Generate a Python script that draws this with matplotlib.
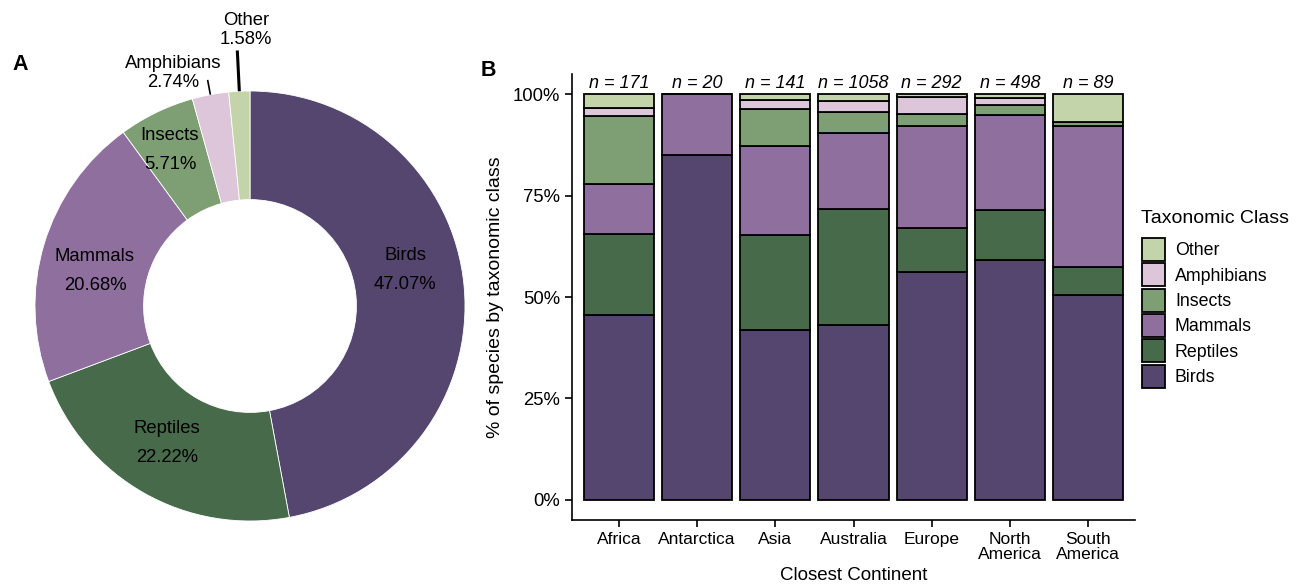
import numpy as np
import matplotlib
matplotlib.use("Agg")
import matplotlib.pyplot as plt
from matplotlib.patches import Patch

plt.rcParams['font.family'] = ['Liberation Sans', 'DejaVu Sans']

# ---------------- data ----------------
classes = ["Birds", "Reptiles", "Mammals", "Insects", "Amphibians", "Other"]
colors = ["#55466f", "#476b4a", "#8e6f9e", "#7e9e73", "#ddc5da", "#c3d4aa"]

overall_pct = [47.07, 22.22, 20.68, 5.71, 2.74, 1.58]

continents = ["Africa", "Antarctica", "Asia", "Australia", "Europe",
              "North\nAmerica", "South\nAmerica"]
n_totals = [171, 20, 141, 1058, 292, 498, 89]

birds = [78, 17, 59, 455, 164, 294, 45]
reptiles = [34, 0, 33, 304, 32, 62, 6]
mammals = [21, 3, 31, 198, 73, 116, 31]
insects = [29, 0, 13, 54, 9, 13, 1]
amphibians = [3, 0, 3, 29, 12, 9, 0]
other = [6, 0, 2, 18, 2, 4, 6]

W, H = 1303, 587
fig = plt.figure(figsize=(W / 100, H / 100), dpi=100)

# ---------------- Panel A: donut ----------------
cx, cy, R = 250, 306, 215
axA = fig.add_axes([(cx - R) / W, 1 - (cy + R) / H, 2 * R / W, 2 * R / H])
axA.pie(overall_pct, colors=colors, startangle=90, counterclock=False,
        radius=1.0, wedgeprops=dict(width=0.505, edgecolor="white", linewidth=0.6))
axA.set_xlim(-1, 1)
axA.set_ylim(-1, 1)
axA.set_aspect("equal")
axA.axis("off")

def to_data(px, py):
    return (px - cx) / R, (cy - py) / R

inner_label_px = {"Birds": (405, 270), "Reptiles": (167, 443),
                  "Mammals": (95, 271), "Insects": (170, 150)}
for name, pct in zip(classes, overall_pct):
    if name in inner_label_px:
        x, y = to_data(*inner_label_px[name])
        axA.text(x, y, f"{name}\n{pct:.2f}%", ha="center", va="center",
                 fontsize=13.3, linespacing=1.95)

# outside labels with leader lines
cum = np.cumsum([0] + overall_pct)
outer = {"Amphibians": ((173, 73), 1.07), "Other": ((246, 30), 1.19)}
for i, name in enumerate(classes):
    if name in outer:
        mid = (cum[i] + cum[i + 1]) / 2
        ang = np.deg2rad(90 - mid / 100 * 360)
        r2 = outer[name][1]
        axA.plot([np.cos(ang), r2 * np.cos(ang)], [np.sin(ang), r2 * np.sin(ang)],
                 color="black", lw=2.2 if name == "Other" else 1.2, clip_on=False,
                 solid_capstyle="butt")
        x, y = to_data(*outer[name][0])
        axA.text(x, y, f"{name}\n{overall_pct[i]:.2f}%", ha="center", va="center",
                 fontsize=13.3, linespacing=1.15)

fig.text(12 / W, 1 - 65 / H, "A", fontsize=15.5, fontweight="bold", ha="left", va="center")
fig.text(481 / W, 1 - 70 / H, "B", fontsize=15.5, fontweight="bold", ha="left", va="center")

# ---------------- Panel B: stacked bars ----------------
axB = fig.add_axes([572 / W, 1 - 520 / H, (1135 - 572) / W, (520 - 74) / H])
series = [birds, reptiles, mammals, insects, amphibians, other]
tot = np.array(n_totals, dtype=float)
x = np.arange(len(continents))
bottom = np.zeros(len(continents))
for vals, col in zip(series, colors):
    frac = np.array(vals) / tot
    axB.bar(x, frac, bottom=bottom, width=0.9, color=col, edgecolor="black",
            linewidth=1.3)
    bottom += frac

for xi, n in zip(x, n_totals):
    axB.text(xi, 1.005, f"n = {n}", ha="center", va="bottom", fontsize=13,
             style="italic")

axB.set_xlim(-0.6, len(continents) - 0.4)
axB.set_ylim(-0.05, 1.05)
axB.set_yticks([0, 0.25, 0.5, 0.75, 1.0])
axB.set_yticklabels(["0%", "25%", "50%", "75%", "100%"])
axB.set_xticks(x)
axB.set_xticklabels(continents, linespacing=1.0)
axB.tick_params(axis="x", labelsize=12.5, length=5, width=1.2, colors="black")
axB.tick_params(axis="y", labelsize=13.3, length=5, width=1.2, colors="black")
for s in ["top", "right"]:
    axB.spines[s].set_visible(False)
for s in ["left", "bottom"]:
    axB.spines[s].set_linewidth(1.2)
axB.set_ylabel("% of species by taxonomic class", fontsize=14, labelpad=6)
axB.set_xlabel("Closest Continent", fontsize=13.5, labelpad=4)

# legend (title placed separately for precise spacing)
fig.text(1141 / W, 1 - 218 / H, "Taxonomic Class", fontsize=14,
         ha="left", va="center")
handles = [Patch(facecolor=c, edgecolor="black", linewidth=1.3, label=n)
           for n, c in zip(classes, colors)][::-1]
leg = fig.legend(handles=handles, loc="upper left",
                 bbox_to_anchor=(1142 / W, 1 - 238 / H), frameon=False,
                 fontsize=12.8, handlelength=1.3, handleheight=1.61,
                 labelspacing=0.135, handletextpad=0.55,
                 borderaxespad=0, borderpad=0)

fig.savefig("out.png", dpi=100)
